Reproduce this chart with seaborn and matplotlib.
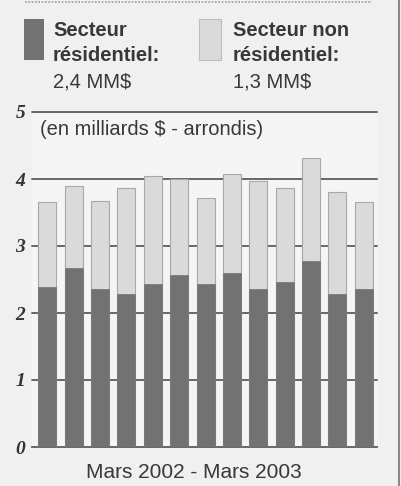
import pandas as pd
import matplotlib.pyplot as plt
import seaborn as sns
from matplotlib.lines import Line2D

# Valeurs mensuelles des permis de bâtir (milliards $), mars 2002 - mars 2003
mois = ["mars-02", "avr-02", "mai-02", "juin-02", "juil-02", "août-02", "sept-02",
        "oct-02", "nov-02", "déc-02", "janv-03", "févr-03", "mars-03"]
residentiel = [2.39, 2.67, 2.36, 2.28, 2.44, 2.56, 2.44, 2.60, 2.36, 2.47, 2.78, 2.29, 2.36]
non_residentiel = [1.26, 1.23, 1.31, 1.58, 1.60, 1.44, 1.28, 1.47, 1.61, 1.40, 1.54, 1.52, 1.29]
yticks = [0, 1, 2, 3, 4, 5]

df = pd.DataFrame({"mois": mois, "res": residentiel, "nonres": non_residentiel})
df["total"] = df["res"] + df["nonres"]

sns.set_style("white")
bg = "#f0f0f0"
dark = "#727272"
light = "#dadada"
grid = "#5c5c5c"

W, H = 402, 486
fig = plt.figure(figsize=(W / 100, H / 100), dpi=100, facecolor=bg)
ax = fig.add_axes([32 / W, 1 - 447 / H, 345 / W, 335 / H])
ax.set_facecolor("#f5f5f5")

sns.barplot(data=df, x="mois", y="total", color=light, width=0.68,
            edgecolor="#a8a8a8", linewidth=0.8, saturation=1, ax=ax, zorder=3)
sns.barplot(data=df, x="mois", y="res", color=dark, width=0.68,
            edgecolor=dark, linewidth=0.5, saturation=1, ax=ax, zorder=4)

ax.set_xlim(-0.58, 12.5)
ax.set_ylim(0, 5)
ax.set_xlabel("")
ax.set_ylabel("")
ax.set_xticks([])
ax.set_xticks([i + 0.5 for i in range(12)], minor=True)
ax.tick_params(axis="x", which="minor", direction="in", length=4, width=1, color=grid)

for y in yticks[1:]:
    ax.axhline(y, color=grid, lw=1.3, zorder=1, clip_on=False)

ax.set_yticks(yticks)
ax.set_yticklabels([str(v) for v in yticks], family="Liberation Serif",
                   style="italic", weight="bold", fontsize=14, color="#333333")
ax.tick_params(axis="y", length=0, pad=5)

for s in ["top", "left", "right"]:
    ax.spines[s].set_visible(False)
ax.spines["bottom"].set_color(grid)
ax.spines["bottom"].set_linewidth(1.3)

def fx(x):
    return x / W

def fy(y):
    return 1 - y / H

txt = dict(family="Liberation Sans", color="#383838")

# légende manuelle
fig.patches.append(plt.Rectangle((fx(24), fy(60)), 20 / W, 41 / H, transform=fig.transFigure,
                                 facecolor=dark, edgecolor="none"))
fig.patches.append(plt.Rectangle((fx(199), fy(60)), 22 / W, 41 / H, transform=fig.transFigure,
                                 facecolor=light, edgecolor="#bdbdbd", lw=0.8))
fig.text(fx(53), fy(36), "Secteur", fontsize=14.5, weight="bold", **txt)
fig.text(fx(53), fy(61), "résidentiel:", fontsize=14.5, weight="bold", **txt)
fig.text(fx(53), fy(87), "2,4 MM$", fontsize=14.5, **txt)
fig.text(fx(233), fy(36), "Secteur non", fontsize=14.5, weight="bold", **txt)
fig.text(fx(233), fy(61), "résidentiel:", fontsize=14.5, weight="bold", **txt)
fig.text(fx(233), fy(87), "1,3 MM$", fontsize=14.5, **txt)

fig.text(fx(40), fy(135), "(en milliards $ - arrondis)", fontsize=14.5, **txt)
fig.text(fx(194), fy(478), "Mars 2002 - Mars 2003", fontsize=15, ha="center", **txt)

fig.add_artist(Line2D([fx(25), fx(372)], [fy(2), fy(2)], transform=fig.transFigure,
                      color="#9a9a9a", lw=1.2, ls=(0, (1, 1))))
fig.add_artist(Line2D([fx(399.5), fx(399.5)], [0, 1], transform=fig.transFigure,
                      color="#8a8a8a", lw=1.5))

fig.savefig("out.png", dpi=100, facecolor=bg)
